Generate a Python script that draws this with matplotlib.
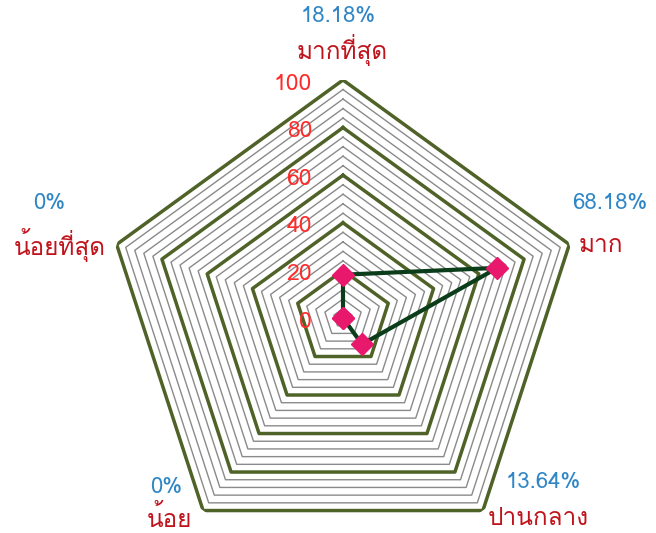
import numpy as np
import matplotlib
matplotlib.use("Agg")
import matplotlib.pyplot as plt

plt.rcParams['font.family'] = ['Loma', 'DejaVu Sans']

# data
categories = ['มากที่สุด', 'มาก', 'ปานกลาง', 'น้อย', 'น้อยที่สุด']
values = [18.18, 68.18, 13.64, 0, 0]
ticks = [0, 20, 40, 60, 80, 100]
minor_step = 4

# label offsets (pixels) from each outer vertex: category name, percent
cat_off = [(-1, 30), (32, -1), (55, -8), (-34, -8), (-57, -1)]
pct_off = [(-5, 63), (40, 41), (60, 28), (-37, 23), (-67, 41)]

n = len(categories)
theta = np.linspace(0, 2 * np.pi, n, endpoint=False)
theta_c = np.append(theta, theta[0])

fig = plt.figure(figsize=(6.56, 5.33), dpi=100)
ax = fig.add_axes([105 / 656, -23 / 533, 476 / 656, 476 / 533], projection='polar')
ax.set_theta_zero_location('N')
ax.set_theta_direction(-1)
ax.set_ylim(0, 100)
ax.grid(False)
ax.set_xticks([])
ax.set_yticks([])
ax.spines['polar'].set_visible(False)
ax.patch.set_alpha(0)

# pentagon grid: thin every 4, thick every 20
for r in range(minor_step, 101, minor_step):
    if r % 20 == 0:
        continue
    ax.plot(theta_c, [r] * (n + 1), color='#8a8a8a', lw=1.0, zorder=1)
for r in ticks[1:]:
    ax.plot(theta_c, [r] * (n + 1), color='#4f6228', lw=2.5, zorder=2)

# radial tick labels to the left of the top axis
for t in ticks:
    ax.annotate(str(t), (0, t), xytext=(-31, -4), textcoords='offset pixels',
                ha='right', va='center', fontsize=16.5, color='#ff2b2b')

# series
vals_c = values + values[:1]
ax.plot(theta_c, vals_c, color='#0b3d1a', lw=3, zorder=4)
ax.plot(theta, values, ls='none', marker='D', ms=11, color='#e8186d',
        mec='#e8186d', zorder=5)

for i in range(n):
    ax.annotate(categories[i], (theta[i], 100), xytext=cat_off[i],
                textcoords='offset pixels', ha='center', va='center',
                fontsize=17.5, color='#c0141c', annotation_clip=False)
    ax.annotate(f'{values[i]:g}%', (theta[i], 100), xytext=pct_off[i],
                textcoords='offset pixels', ha='center', va='center',
                fontsize=16, color='#2f86c6', annotation_clip=False)

fig.savefig('out.png', dpi=100)
